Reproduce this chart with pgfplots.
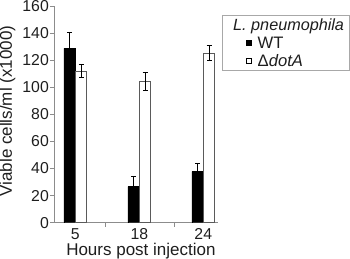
\documentclass[border=0pt]{standalone}
\usepackage{pgfplots}
\pgfplotsset{compat=1.18}
\usepackage{fontspec}
\setmainfont{Liberation Sans}
\definecolor{axgray}{HTML}{8C8C8C}
\definecolor{txt}{HTML}{1E1E1E}
\definecolor{bargray}{HTML}{5A5A5A}
\definecolor{leggray}{HTML}{A8A8A8}
\begin{document}
\begin{tikzpicture}
\begin{axis}[
  scale only axis, width=164pt, height=216.7pt,
  xmin=-0.333, xmax=2.23, ymin=0, ymax=160,
  ybar=0pt, bar width=0.18,
  axis x line*=bottom, axis y line*=left,
  axis line style={draw=axgray, line width=0.8pt, -},
  ytick={0,20,...,160},
  xtick={0,1,2}, xticklabels={5,18,24},
  xtick style={draw=none},
  extra x ticks={0.464,1.542}, extra x tick labels={},
  extra x tick style={xtick style={draw=axgray, line width=0.8pt}},
  ytick style={draw=axgray, line width=0.8pt},
  tick align=outside, major tick length=4pt,
  /pgf/number format/assume math mode=true,
  tick label style={font=\fontsize{15.8}{18}\selectfont, text=txt},
  yticklabel style={inner xsep=1pt},
  xticklabel style={inner ysep=1pt, yshift=-1pt},
  label style={font=\fontsize{17}{20}\selectfont, text=txt},
  xlabel={Hours post injection},
  ylabel={Viable cells/ml (x1000)},
  xlabel style={at={(axis description cs:0.53,-0.152)}, anchor=base, inner ysep=0pt},
  ylabel style={at={(axis description cs:-0.2835,0.515)}, anchor=center},
  legend style={at={(axis description cs:1.024,0.958)}, anchor=north west,
    draw=leggray, line width=0.8pt, fill=white, font=\fontsize{16.6}{18}\selectfont, text=txt,
    row sep=0pt, inner ysep=0.5pt,
    nodes={inner ysep=1pt, text height=13.5pt, text depth=2.5pt}},
  legend cell align=left,
]
\addlegendimage{empty legend}
\addlegendentry{\hspace*{-24.5pt}{\fontsize{16.2}{18}\selectfont\textit{L. pneumophila}}}
\addplot[fill=black, draw=black,
  legend image code/.code={\draw[fill=black,draw=black,line width=0.6pt] (21pt,-2.5pt) rectangle (26pt,2.5pt); \path (30pt,0pt);},
  error bars/.cd, y dir=both, y explicit,
  error bar style={line width=0.8pt, draw=black},
  error mark options={rotate=90, mark size=2.5pt, line width=0.8pt, draw=black}]
  coordinates {(0,128.8) +- (0,11.8) (1,26.6) +- (0,7.4) (2,37.7) +- (0,6.2)};
\addlegendentry{WT}
\addplot[fill=white, draw=bargray, line width=0.8pt,
  legend image code/.code={\draw[fill=white,draw=black,line width=0.6pt] (21pt,-2.5pt) rectangle (26pt,2.5pt); \path (30pt,0pt);},
  error bars/.cd, y dir=both, y explicit,
  error bar style={line width=0.8pt, draw=black},
  error mark options={rotate=90, mark size=2.5pt, line width=0.8pt, draw=black}]
  coordinates {(0,112.0) +- (0,5.0) (1,104.5) +- (0,6.5) (2,125.1) +- (0,5.5)};
\addlegendentry{Δ\textit{dotA}}
\end{axis}
\pgfresetboundingbox
\useasboundingbox (-54pt,-36.3pt) rectangle (296pt,222.7pt);
\end{tikzpicture}
\end{document}
